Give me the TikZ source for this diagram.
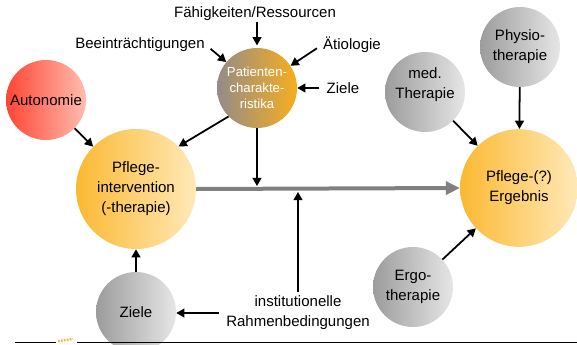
\documentclass[tikz,border=0pt]{standalone}
\usepackage{fontspec}
\setmainfont{Liberation Sans}
\usetikzlibrary{arrows.meta}
\begin{document}
\begin{tikzpicture}[x=0.85pt,y=-0.85pt,
  ball/.style={circle,inner sep=0pt,align=center,shading angle=45,
    font=\fontsize{12.75}{17}\selectfont},
  small/.style={minimum size=68pt},
  big/.style={minimum size=102pt},
  orangeball/.style={ball,big,left color=ballOrA,right color=ballOrB},
  grayball/.style={ball,small,left color=ballGrA,right color=ballGrB},
  lbl/.style={align=center,inner sep=1pt,font=\fontsize{12.75}{17}\selectfont},
  arr/.style={line width=1.5pt,-{Triangle[length=7pt,width=7.5pt]}},
  mainarr/.style={line width=3.4pt,draw=mainGray,-{Triangle[length=12pt,width=11pt]}}
]
\definecolor{ballOrA}{HTML}{FBB933}
\definecolor{ballOrB}{HTML}{FFE9B8}
\definecolor{ballGrA}{HTML}{9C9C9C}
\definecolor{ballGrB}{HTML}{E6E6E6}
\definecolor{ballRdA}{HTML}{FF4535}
\definecolor{ballRdB}{HTML}{FFBDAF}
\definecolor{ballPtA}{HTML}{948C88}
\definecolor{ballPtB}{HTML}{F7AE1E}
\definecolor{mainGray}{HTML}{808080}
\definecolor{logoOr}{HTML}{F9B233}

\useasboundingbox (0,0) rectangle (577,344);
\clip (0,0) rectangle (577,344);

% circles
\node[ball,small,left color=ballRdA,right color=ballRdB] (auto) at (46,100) {Autonomie};
\node[ball,small,left color=ballPtA,right color=ballPtB,text=white,
  font=\fontsize{11.2}{13.6}\selectfont] (pat) at (257,88) {Patienten-\\charakte-\\ristika};
\node[orangeball] (pint) at (136,189) {Pflege-\\intervention\\(-therapie)};
\node[grayball] (ziele) at (136,312) {Ziele};
\node[grayball,label={[lbl,yshift=6.5pt]center:med.\\Therapie}] (med) at (425,92) {};
\node[grayball] (phys) at (520,47) {Physio-\\therapie};
\node[orangeball,minimum size=100pt] (erg) at (519,188) {Pflege-(?)\\Ergebnis};
\node[grayball] (ergo) at (413,287) {Ergo-\\therapie};

% labels
\node[lbl] (faeh) at (255,14) {Fähigkeiten/Ressourcen};
\node[lbl] (beein) at (140,45) {Beeinträchtigungen};
\node[lbl] (aet) at (352,45) {Ätiologie};
\node[lbl] (ziel2) at (343,88) {Ziele};
\node[lbl] (inst) at (298,313) {institutionelle\\Rahmenbedingungen};

% connectors into Patientencharakteristika
\draw[arr] (faeh.south -| pat.north) -- ([yshift=2pt]pat.north);
\draw[arr,shorten <=5pt] (beein.east) -- (pat);
\draw[arr,shorten <=5pt] (aet.west) -- (pat);
\draw[arr,shorten <=5pt] (ziel2.west) -- (pat);

% main arrow
\draw[mainarr] (pint.east) -- (erg.west);

\coordinate (j1) at (pat.south |- pint.east);
\coordinate (j2) at (inst.north |- pint.east);
\draw[arr,shorten >=2.5pt] (pat.south) -- (j1);
\draw[arr,shorten >=2.5pt,shorten <=2pt] (inst.north) -- (j2);

\draw[arr] (pat.225) -- (pint.45);
\draw[arr] (auto) -- (pint);
\draw[arr] (ziele) -- (pint);
\draw[arr,shorten <=5pt] (inst.west) -- (inst.west -| ziele.east);

\draw[arr] (med) -- (erg);
\draw[arr] (phys) -- (erg);
\draw[arr] (ergo) -- (erg);

% bottom rule
\coordinate (r0) at (15,342);
\coordinate (r1) at (56,342);
\coordinate (r2) at (77,342);
\coordinate (r3) at (577,342);
\draw[line width=0.8pt] (r0) -- (r1);
\draw[line width=0.8pt] (r2) -- (r3);
\draw[logoOr,line width=2pt,dash pattern=on 1.5pt off 1pt] (58,341) -- (73,339);
\end{tikzpicture}
\end{document}
